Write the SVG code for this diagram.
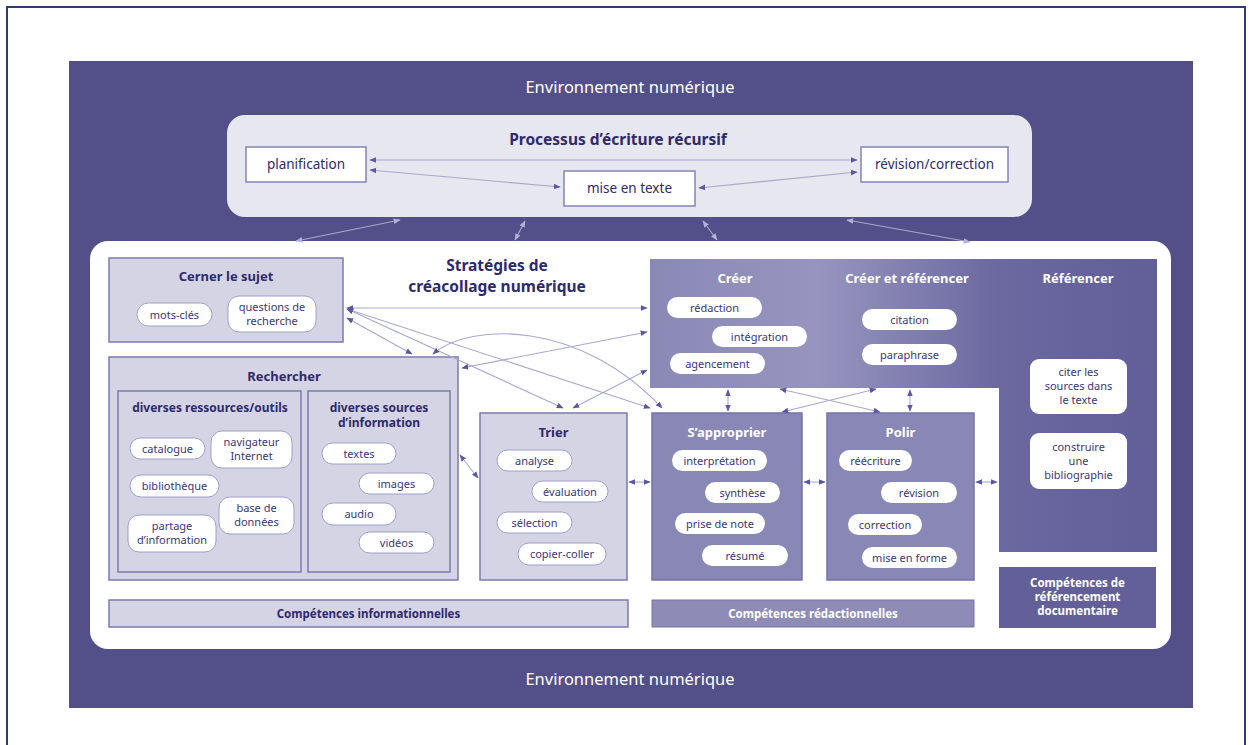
<svg xmlns="http://www.w3.org/2000/svg" width="1252" height="745" viewBox="0 0 1252 745">
  <defs>
    <style>
      text { font-family: "Noto Sans", "Open Sans", sans-serif; text-anchor: middle; }
      .env { fill: #ffffff; font-size: 16.5px; }
      .h1 { fill: #2e2a6c; font-size: 15.5px; font-weight: 700; }
      .h2 { fill: #2e2a6c; font-size: 13px; font-weight: 700; }
      .h2w { fill: #ffffff; font-size: 13px; font-weight: 700; }
      .h3 { fill: #2e2a6c; font-size: 12px; font-weight: 700; }
      .lbl { fill: #2e2a6c; font-size: 13.5px; }
      .pt { fill: #3a3776; font-size: 11px; }
      .bar { fill: #2e2a6c; font-size: 11.5px; font-weight: 700; }
      .barw { fill: #ffffff; font-size: 11.5px; font-weight: 700; }
      .light { fill: #d5d4e5; stroke: #7c79ae; stroke-width: 1.5; }
      .mid { fill: #8987b5; stroke: #7673a9; stroke-width: 1.5; }
      .pill { fill: #ffffff; stroke: #a09ec8; stroke-width: 1; }
      .pilld { fill: #ffffff; stroke: none; }
      .wbox { fill: #ffffff; stroke: #8683b6; stroke-width: 1.5; }
      .conn { fill: none; stroke: #a9a7cf; stroke-width: 1.1; marker-start: url(#ah); marker-end: url(#ah); }
      .connl { fill: none; stroke: #a9a7cf; stroke-width: 1.1; marker-start: url(#ahl); marker-end: url(#ahl); }
    </style>
    <marker id="ah" viewBox="0 0 10 10" refX="9" refY="5" markerWidth="7" markerHeight="7" markerUnits="userSpaceOnUse" orient="auto-start-reverse">
      <path d="M0,1 L10,5 L0,9 z" fill="#5a57a0"/>
    </marker>
    <marker id="ahl" viewBox="0 0 10 10" refX="9" refY="5" markerWidth="7" markerHeight="7" markerUnits="userSpaceOnUse" orient="auto-start-reverse">
      <path d="M0,1 L10,5 L0,9 z" fill="#b3b1d8"/>
    </marker>
    <linearGradient id="creer" gradientUnits="userSpaceOnUse" x1="650" y1="0" x2="1157" y2="0">
      <stop offset="0" stop-color="#8a88b5"/>
      <stop offset="0.33" stop-color="#9795bf"/>
      <stop offset="0.68" stop-color="#6c69a1"/>
      <stop offset="1" stop-color="#615e98"/>
    </linearGradient>
  </defs>

  <!-- page frame -->
  <rect x="0" y="0" width="1252" height="745" fill="#ffffff"/>
  <rect x="7" y="7" width="1238" height="750" fill="none" stroke="#2f3a78" stroke-width="2"/>

  <!-- digital environment backdrop -->
  <g id="environnement">
    <rect x="69" y="61" width="1124" height="647" fill="#534f89"/>
    <text class="env" x="630" y="93">Environnement numérique</text>
    <text class="env" x="630" y="685">Environnement numérique</text>
  </g>

  <!-- recursive writing process -->
  <g id="processus">
    <rect x="227" y="115" width="805" height="102" rx="18" fill="#e7e7f0"/>
    <text class="h1" x="618" y="145">Processus d’écriture récursif</text>
  </g>
  <g id="planification">
    <rect class="wbox" x="246" y="147" width="120" height="35"/>
    <text class="lbl" x="306" y="169">planification</text>
  </g>
  <g id="mise-en-texte">
    <rect class="wbox" x="564" y="171" width="131" height="35"/>
    <text class="lbl" x="629.5" y="193">mise en texte</text>
  </g>
  <g id="revision-correction">
    <rect class="wbox" x="861" y="147" width="147" height="35"/>
    <text class="lbl" x="934.5" y="169">révision/correction</text>
  </g>

  <!-- strategies panel -->
  <g id="strategies">
    <rect x="90" y="241" width="1081" height="408" rx="18" fill="#ffffff"/>
    <text class="h1" x="497" y="271" font-size="15">Stratégies de</text>
    <text class="h1" x="497" y="292" font-size="15">créacollage numérique</text>
  </g>

  <g id="cerner-le-sujet">
    <rect class="light" x="109" y="258" width="234" height="84"/>
    <text class="h2" x="226" y="281">Cerner le sujet</text>
    <rect class="pill" x="137" y="303" width="75" height="23" rx="11.5"/>
    <text class="pt" x="174.5" y="318.5">mots-clés</text>
    <rect class="pill" x="228" y="296" width="88" height="36" rx="11"/>
    <text class="pt" x="272" y="311">questions de</text>
    <text class="pt" x="272" y="324.5">recherche</text>
  </g>

  <g id="rechercher">
    <rect class="light" x="109" y="357" width="349" height="223"/>
    <text class="h2" x="284" y="381">Rechercher</text>
    <rect class="light" x="118" y="391" width="183" height="181"/>
    <text class="h3" x="210" y="412">diverses ressources/outils</text>
    <rect class="light" x="308" y="391" width="142" height="181"/>
    <text class="h3" x="379" y="412">diverses sources</text>
    <text class="h3" x="379" y="427">d’information</text>

    <rect class="pill" x="130" y="438" width="75" height="21" rx="10.5"/>
    <text class="pt" x="167.5" y="452.5">catalogue</text>
    <rect class="pill" x="211" y="431" width="81" height="37" rx="11"/>
    <text class="pt" x="251.5" y="446">navigateur</text>
    <text class="pt" x="251.5" y="459.5">Internet</text>
    <rect class="pill" x="130" y="475" width="89" height="22" rx="11"/>
    <text class="pt" x="174.5" y="490">bibliothèque</text>
    <rect class="pill" x="219" y="497" width="75" height="37" rx="11"/>
    <text class="pt" x="256.5" y="512">base de</text>
    <text class="pt" x="256.5" y="525.5">données</text>
    <rect class="pill" x="128" y="515" width="88" height="37" rx="11"/>
    <text class="pt" x="172" y="530">partage</text>
    <text class="pt" x="172" y="543.5">d’information</text>

    <rect class="pill" x="322" y="443" width="74" height="21" rx="10.5"/>
    <text class="pt" x="359" y="457.5">textes</text>
    <rect class="pill" x="359" y="473" width="75" height="21" rx="10.5"/>
    <text class="pt" x="396.5" y="487.5">images</text>
    <rect class="pill" x="322" y="503" width="74" height="22" rx="11"/>
    <text class="pt" x="359" y="518">audio</text>
    <rect class="pill" x="359" y="532" width="75" height="21" rx="10.5"/>
    <text class="pt" x="396.5" y="546.5">vidéos</text>
  </g>

  <g id="trier">
    <rect class="light" x="480" y="413" width="147" height="167"/>
    <text class="h2" x="553.5" y="437">Trier</text>
    <rect class="pill" x="497" y="450" width="75" height="21" rx="10.5"/>
    <text class="pt" x="534.5" y="464.5">analyse</text>
    <rect class="pill" x="532" y="481" width="76" height="21" rx="10.5"/>
    <text class="pt" x="570" y="495.5">évaluation</text>
    <rect class="pill" x="497" y="512" width="75" height="21" rx="10.5"/>
    <text class="pt" x="534.5" y="526.5">sélection</text>
    <rect class="pill" x="518" y="543" width="88" height="22" rx="11"/>
    <text class="pt" x="562" y="558">copier-coller</text>
  </g>

  <g id="creer">
    <path d="M650,259 H1157 V552 H999 V388 H650 Z" fill="url(#creer)"/>
    <text class="h2w" x="735" y="283">Créer</text>
    <text class="h2w" x="907" y="283">Créer et référencer</text>
    <text class="h2w" x="1078" y="283">Référencer</text>
    <rect class="pilld" x="667" y="297" width="95" height="21" rx="10.5"/>
    <text class="pt" x="714.5" y="311.5">rédaction</text>
    <rect class="pilld" x="712" y="326" width="95" height="21" rx="10.5"/>
    <text class="pt" x="759.5" y="340.5">intégration</text>
    <rect class="pilld" x="670" y="353" width="95" height="21" rx="10.5"/>
    <text class="pt" x="717.5" y="367.5">agencement</text>
    <rect class="pilld" x="862" y="309" width="95" height="21" rx="10.5"/>
    <text class="pt" x="909.5" y="323.5">citation</text>
    <rect class="pilld" x="862" y="344" width="95" height="21" rx="10.5"/>
    <text class="pt" x="909.5" y="358.5">paraphrase</text>
    <rect class="pilld" x="1030" y="359" width="97" height="55" rx="9"/>
    <text class="pt" x="1078.5" y="376">citer les</text>
    <text class="pt" x="1078.5" y="390">sources dans</text>
    <text class="pt" x="1078.5" y="404">le texte</text>
    <rect class="pilld" x="1030" y="433" width="97" height="56" rx="9"/>
    <text class="pt" x="1078.5" y="451">construire</text>
    <text class="pt" x="1078.5" y="465">une</text>
    <text class="pt" x="1078.5" y="479">bibliographie</text>
  </g>

  <g id="s-approprier">
    <rect class="mid" x="652" y="413" width="150" height="167"/>
    <text class="h2w" x="727" y="437">S’approprier</text>
    <rect class="pilld" x="672" y="450" width="95" height="21" rx="10.5"/>
    <text class="pt" x="719.5" y="464.5">interprétation</text>
    <rect class="pilld" x="705" y="482" width="75" height="21" rx="10.5"/>
    <text class="pt" x="742.5" y="496.5">synthèse</text>
    <rect class="pilld" x="675" y="513" width="90" height="21" rx="10.5"/>
    <text class="pt" x="720" y="527.5">prise de note</text>
    <rect class="pilld" x="702" y="545" width="86" height="21" rx="10.5"/>
    <text class="pt" x="745" y="559.5">résumé</text>
  </g>

  <g id="polir">
    <rect class="mid" x="827" y="413" width="147" height="167"/>
    <text class="h2w" x="900.5" y="437">Polir</text>
    <rect class="pilld" x="839" y="450" width="73" height="21" rx="10.5"/>
    <text class="pt" x="875.5" y="464.5">réécriture</text>
    <rect class="pilld" x="881" y="482" width="76" height="21" rx="10.5"/>
    <text class="pt" x="919" y="496.5">révision</text>
    <rect class="pilld" x="848" y="514" width="74" height="21" rx="10.5"/>
    <text class="pt" x="885" y="528.5">correction</text>
    <rect class="pilld" x="862" y="547" width="95" height="21" rx="10.5"/>
    <text class="pt" x="909.5" y="561.5">mise en forme</text>
  </g>

  <g id="competences-informationnelles">
    <rect class="light" x="109" y="600" width="519" height="27"/>
    <text class="bar" x="368.5" y="618">Compétences informationnelles</text>
  </g>
  <g id="competences-redactionnelles">
    <rect x="652" y="600" width="322" height="27" fill="#8e8cb7" stroke="#7673a9" stroke-width="1"/>
    <text class="barw" x="813" y="618">Compétences rédactionnelles</text>
  </g>
  <g id="competences-referencement">
    <rect x="999" y="567" width="157" height="61" fill="#625f99"/>
    <text class="barw" x="1077.5" y="587">Compétences de</text>
    <text class="barw" x="1077.5" y="601">référencement</text>
    <text class="barw" x="1077.5" y="615">documentaire</text>
  </g>

  <!-- connectors -->
  <g id="connecteurs">
    <!-- inside the writing process -->
    <line class="conn" x1="370" y1="160" x2="857" y2="160"/>
    <line class="conn" x1="370" y1="170" x2="560" y2="187"/>
    <line class="conn" x1="699" y1="188" x2="857" y2="172"/>
    <!-- process to strategies, over the dark backdrop -->
    <line class="connl" x1="400" y1="220" x2="296" y2="241"/>
    <line class="connl" x1="525" y1="221" x2="515" y2="240"/>
    <line class="connl" x1="703" y1="221" x2="717" y2="240"/>
    <line class="connl" x1="847" y1="220" x2="970" y2="242"/>
    <!-- from Cerner le sujet -->
    <line class="conn" x1="347" y1="308" x2="647" y2="308"/>
    <line class="conn" x1="347" y1="318" x2="412" y2="354"/>
    <line class="conn" x1="347" y1="309" x2="563" y2="408"/>
    <line class="conn" x1="347" y1="309" x2="650" y2="408"/>
    <!-- from Rechercher -->
    <path class="conn" d="M433,354 C470,322 580,320 662,408"/>
    <line class="conn" x1="462" y1="368" x2="647" y2="332"/>
    <line class="conn" x1="460" y1="455" x2="478" y2="478"/>
    <!-- from Trier -->
    <line class="conn" x1="573" y1="408" x2="647" y2="370"/>
    <line class="conn" x1="629" y1="482" x2="650" y2="482"/>
    <!-- between the writing boxes -->
    <line class="conn" x1="728" y1="390" x2="728" y2="411"/>
    <line class="conn" x1="910" y1="390" x2="910" y2="411"/>
    <line class="conn" x1="780" y1="389" x2="880" y2="412"/>
    <line class="conn" x1="876" y1="389" x2="782" y2="412"/>
    <line class="conn" x1="804" y1="482" x2="825" y2="482"/>
    <line class="conn" x1="976" y1="482" x2="997" y2="482"/>
  </g>
</svg>
